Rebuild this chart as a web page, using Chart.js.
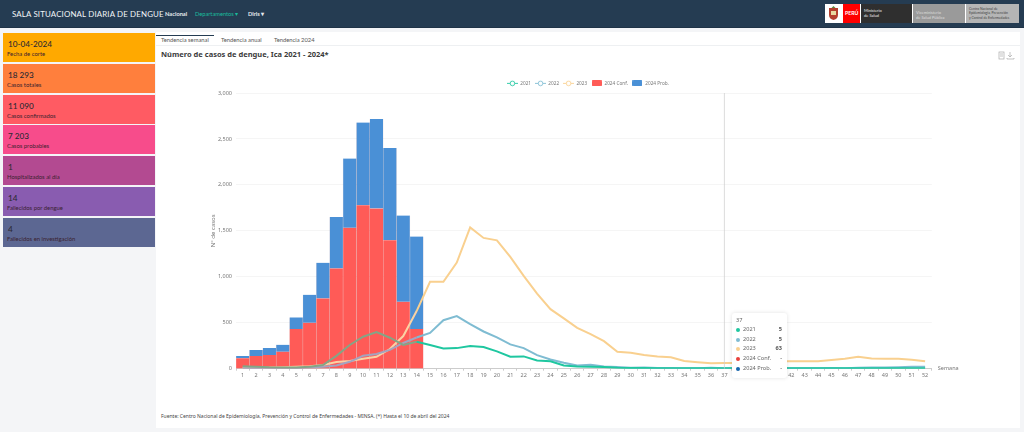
<!DOCTYPE html>
<html lang="es"><head><meta charset="utf-8">
<script src="https://cdn.jsdelivr.net/npm/chart.js@4"></script>
<style>
*{box-sizing:border-box}
html,body{margin:0;width:1024px;height:432px;overflow:hidden;background:#f4f5f7;font-family:Lato,"Open Sans",sans-serif;color:#333}
#top{position:absolute;left:0;top:0;width:1024px;height:28px;background:#253c52;border-bottom:1px solid #1f3347}
#brand{position:absolute;left:12px;top:7px;font-size:7.9px;letter-spacing:.15px;color:#f2f5f7;line-height:14px;white-space:nowrap}
.nav{position:absolute;top:8px;font-size:5.7px;line-height:12px;color:#e6ebef;font-weight:700;white-space:nowrap}
#logo{position:absolute;left:825px;top:4px;width:194px;height:19px;background:#fff;display:flex}
#logo>div{height:19px;font-size:4px;line-height:5px;color:#eee;padding:4px 2px 0 3px;margin-right:1px;white-space:nowrap;overflow:hidden}
.box{position:absolute;left:3px;width:152px}
.box b{position:absolute;top:5px;left:5px;font-size:8.2px;font-weight:500;line-height:12px;color:#2c2a33;white-space:nowrap}
.box span{position:absolute;top:16px;left:4px;font-size:5.9px;line-height:9px;color:#3a2230;white-space:nowrap}
#panel{position:absolute;left:156px;top:32px;width:864px;height:396px;background:#fff}
#tabs{position:absolute;left:0;top:0;width:864px;height:14px;border-bottom:1px solid #eef0f2}
#tabs div{position:absolute;top:3px;font-size:5.8px;line-height:9px;color:#555;white-space:nowrap}
#act{position:absolute;left:0;top:0;width:58px;height:1px;background:#253c52}
#title{position:absolute;left:5px;top:17px;font:700 7.5px "Noto Sans",sans-serif;line-height:11px;color:#3c3c3c;white-space:nowrap}
#foot{position:absolute;left:5px;top:380px;font:5px "Noto Sans",sans-serif;line-height:8px;color:#444;white-space:nowrap}
#icons{position:absolute;left:842px;top:19px}
#wrap{position:absolute;left:156px;top:70px;width:864px;height:330px}
#c{display:block}
#tip{position:absolute;left:732px;top:313px;width:55px;height:65px;background:#fff;border-radius:3px;box-shadow:0 0 4px rgba(0,0,0,.12);font:5.6px "Noto Sans",sans-serif;color:#666;padding:3px 4px}
#tip .r{position:relative;height:9.7px;line-height:9.7px;padding-left:7px}
#tip i{position:absolute;left:0;top:3px;width:4px;height:4px;border-radius:50%}
#tip em{position:absolute;right:1px;top:0;font-style:normal;font-weight:700;color:#555}
</style></head><body>
<div id="top">
<div id="brand">SALA SITUACIONAL DIARIA DE DENGUE</div>
<div class="nav" style="left:165px">Nacional</div>
<div class="nav" style="left:195px;color:#1abc9c;font-weight:400">Departamentos ▾</div>
<div class="nav" style="left:248px">Diris ▾</div>
<div id="logo">
<div style="width:17px;background:#fff;padding:0"><svg width="17" height="19" viewBox="0 0 17 19"><path d="M4 4h9v7q0 4-4.500 5Q4 15 4 11z" fill="#b4402e"/><path d="M6 7h5v4H6z" fill="#e9d9a0"/><path d="M8.500 2l2 2h-4z" fill="#5c8a3a"/></svg></div>
<div style="width:17px;background:#f00;font-size:5.2px;line-height:19px;font-weight:700;color:#fff;padding:0 0 0 2px">PERÚ</div>
<div style="width:51px;background:#2f2f2f">Ministerio<br>de Salud</div>
<div style="width:52px;background:#9a9a9a;color:#ddd;padding-top:6px">Viceministerio<br>de Salud Pública</div>
<div style="width:53px;background:#b5b5b5;color:#444;margin:0;line-height:4.4px;font-size:3.4px;padding-top:3px">Centro Nacional de<br>Epidemiología, Prevención<br>y Control de Enfermedades</div>
</div></div>
<div id="side"></div>
<div id="panel">
<div id="tabs"><div id="act"></div><div style="left:5px">Tendencia semanal</div><div style="left:65px">Tendencia anual</div><div style="left:118px">Tendencia 2024</div></div>
<div id="title">Número de casos de dengue, Ica 2021 - 2024*</div>
<svg id="icons" width="18" height="9" viewBox="0 0 18 9" fill="none" stroke="#aaa" stroke-width=".7"><rect x="1" y="1" width="5" height="7"/><path d="M2 3h3M2 5h3M12 1v5M10 4l2 2 2-2M9 7v1h7V7"/></svg>
<div id="foot">Fuente: Centro Nacional de Epidemiología, Prevención y Control de Enfermedades - MINSA. (*) Hasta el 10 de abril del 2024</div>
</div>
<div id="wrap"><canvas id="c" width="864" height="330"></canvas></div>
<div id="tip"></div>
<script>
const weeks=[];for(let w=1;w<=52;w++)weeks.push(String(w));
const conf2024=[113,138,149,185,431,500,765,1091,1533,1779,1743,1399,728,431];
const prob2024=[25,65,76,76,127,304,387,561,754,899,974,1003,939,1008];
const s2021=[28,22,16,14,14,20,40,140,258,348,398,337,258,293,257,220,224,246,235,188,130,134,90,80,36,25,22,18,10,8,8,6,6,6,6,6,5,5,5,5,5,5,5,5,5,5,6,6,5,5,6,6];
const s2022=[5,5,5,6,8,12,20,35,75,140,160,205,280,340,390,528,572,485,405,340,264,224,148,100,65,36,43,25,18,10,12,8,8,6,6,10,5,6,6,6,6,6,6,6,8,6,10,12,14,16,20,20];
const s2023=[10,15,12,15,20,28,40,72,84,109,130,214,355,627,945,945,1155,1538,1423,1397,1216,1010,818,648,547,445,376,300,185,174,148,134,125,83,69,58,63,62,62,65,80,80,80,80,94,108,130,112,108,108,98,80];
const yTicks=[0,500,1000,1500,2000,2500,3000];
const kpiValues=['10-04-2024','18 293','11 090','7 203','1','14','4'];
const kpiLabels=['Fecha de corte','Casos totales','Casos confirmados','Casos probables','Hospitalizados al día','Fallecidos por dengue','Fallecidos en investigación'];
const kpiColors=['#ffa900','#ff7f3d','#ff5b63','#f74c8b','#b34a91','#895cb0','#5c6792'];
const kpiTops=[33,64,95,125,156,187,218];
const activeWeek=37;
const lastBarIndex=conf2024.length-1;
const C={g:'#1fc7a0',b:'#7fbcd2',y:'#f9d08f',r:'#ff5b57',p:'#4a90d6'};
const overBar={g:'#84a586',b:'#a3a4c0',y:'#fbd2a4'};

document.getElementById('side').innerHTML=kpiValues.map((v,i)=>`<div class="box" style="top:${kpiTops[i]}px;height:29px;background:${kpiColors[i]}"><b>${v}</b><span>${kpiLabels[i]}</span></div>`).join('');

function legendLine(color){const k=document.createElement('canvas');k.width=11;k.height=7;const g=k.getContext('2d');g.strokeStyle=color;g.lineWidth=.9;g.beginPath();g.moveTo(0,3.5);g.lineTo(11,3.5);g.stroke();g.beginPath();g.arc(5.5,3.5,2.3,0,7);g.fillStyle='#fff';g.fill();g.stroke();return k;}
function legendRect(color){const k=document.createElement('canvas');k.width=10;k.height=6;const g=k.getContext('2d');g.fillStyle=color;g.beginPath();g.roundRect(0,0,10,6,1);g.fill();return k;}

const lineDs=(label,data,key)=>({type:'line',label,data,borderColor:C[key],backgroundColor:'#fff',borderWidth:2,pointRadius:0,tension:0,order:0,
  segment:{borderColor:c=>c.p1DataIndex<=lastBarIndex?overBar[key]:undefined},legendMark:legendLine(C[key])});
const barDs=(label,data,color)=>({type:'bar',label,data,backgroundColor:color,borderColor:'rgba(150,50,50,.15)',borderWidth:{left:.5,right:.5},stack:'a',barPercentage:1,categoryPercentage:1,order:1,legendMark:legendRect(color)});

const guide={id:'guide',afterDatasetsDraw(ch){
 const x=ch.scales.x.getPixelForValue(activeWeek-1),a=ch.chartArea,g=ch.ctx;
 g.save();g.strokeStyle='#cfcfcf';g.lineWidth=.7;g.beginPath();g.moveTo(x,a.top);g.lineTo(x,a.bottom);g.stroke();g.restore();
}};
const semana={id:'semana',afterDraw(ch){const g=ch.ctx,a=ch.chartArea;g.save();g.fillStyle='#777';g.font='5.5px "Noto Sans"';g.textBaseline='middle';g.fillText('Semana',a.right+6,a.bottom);g.restore();}};
const legendPlace={id:'legendPlace',beforeInit(ch){const f=ch.legend.fit;ch.legend.fit=function(){f.call(this);this.height=23;};},
 afterLayout(ch){const l=ch.legend;l.left+=17;l.right+=17;l.top+=7;l.bottom+=7;}};

new Chart(document.getElementById('c'),{
 data:{labels:weeks,datasets:[
  lineDs('2021',s2021,'g'),lineDs('2022',s2022,'b'),lineDs('2023',s2023,'y'),
  barDs('2024 Conf.',conf2024,C.r),barDs('2024 Prob.',prob2024,C.p)]},
 options:{responsive:false,animation:false,
  layout:{padding:{left:54,right:88.200,top:0,bottom:0}},
  plugins:{tooltip:{enabled:false},title:{display:false},
   legend:{position:'top',align:'center',labels:{font:{size:4.7,family:'"Noto Sans"'},color:'#777',usePointStyle:true,pointStyleWidth:11,padding:4,
    generateLabels(ch){return ch.data.datasets.map((d,i)=>({text:d.label,pointStyle:d.legendMark,fillStyle:'#fff',strokeStyle:'#fff',lineWidth:0,datasetIndex:i,fontColor:'#777'}));}}}},
  scales:{
   x:{stacked:true,afterFit(s){s.height=31.3},grid:{display:true,drawOnChartArea:false,drawTicks:true,tickLength:2,color:'#ccc',offset:true},border:{color:'#ccc'},ticks:{autoSkip:false,maxRotation:0,font:{size:5.5,family:'"Noto Sans"'},color:'#777',padding:1}},
   y:{min:0,max:3000,afterFit(s){s.width=26},afterBuildTicks(s){s.ticks=yTicks.map(v=>({value:v}))},grid:{color:'#eeeeee',lineWidth:.6,drawTicks:false},border:{display:false},
    ticks:{font:{size:5.5,family:'"Noto Sans"'},color:'#777',padding:4,callback:v=>v.toLocaleString('en-US')},
    title:{display:true,text:'N° de casos',font:{size:6,family:'"Noto Sans"'},color:'#777',padding:0}}
  }},
 plugins:[legendPlace,guide,semana]
});
const rows=[['2021',C.g,s2021],['2022',C.b,s2022],['2023',C.y,s2023],['2024 Conf.','#e8403a',conf2024],['2024 Prob.','#1766ad',prob2024]];
document.getElementById('tip').innerHTML='<div style="line-height:9px">'+activeWeek+'</div>'+rows.map(r=>{const v=r[2][activeWeek-1];return `<div class="r"><i style="background:${r[1]}"></i>${r[0]}<em>${v===undefined?'-':v}</em></div>`}).join('');
</script>
</body></html>
